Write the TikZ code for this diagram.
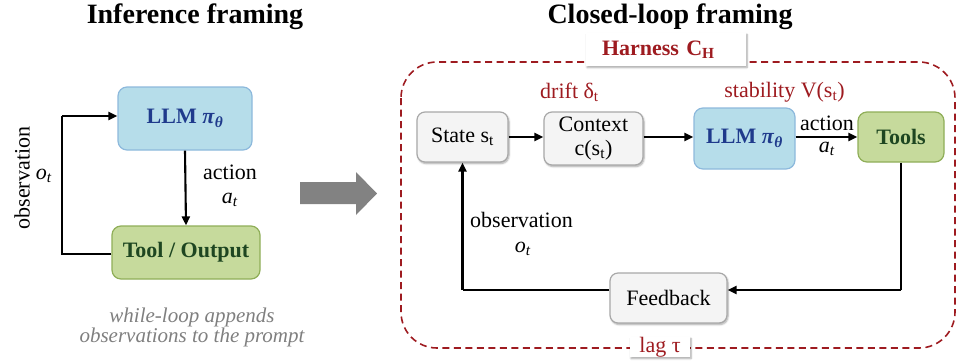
\documentclass[tikz,border=0pt]{standalone}
\usepackage{fontspec}
\setmainfont{Liberation Serif}
\usetikzlibrary{arrows.meta,shadows.blur,calc}

\definecolor{llmfill}{HTML}{B6DDEA}
\definecolor{llmdraw}{HTML}{8DB9DC}
\definecolor{llmtext}{HTML}{1F3A8C}
\definecolor{toolfill}{HTML}{C6DA9C}
\definecolor{tooldraw}{HTML}{8FAE58}
\definecolor{tooltext}{HTML}{1E4621}
\definecolor{greyfill}{HTML}{F4F4F4}
\definecolor{greydraw}{HTML}{A8A8A8}
\definecolor{harness}{HTML}{9E1B20}
\definecolor{captiongrey}{HTML}{7F7F7F}
\definecolor{bigarrow}{HTML}{828282}

\newcommand{\bodyfont}{\fontsize{22}{25}\selectfont}
\newcommand{\titlefont}{\fontsize{28}{32}\selectfont\bfseries}
\newcommand{\sub}[1]{\textsubscript{#1}}

\tikzset{
  x=1pt, y=-1pt,
  softshadow/.style={blur shadow={shadow xshift=1pt, shadow yshift=-1.5pt,
      shadow blur steps=6, shadow opacity=35}},
  llmbox/.style={draw=llmdraw, fill=llmfill, line width=1.2pt, rounded corners=9pt,
      font=\bodyfont\bfseries, text=llmtext, inner sep=0pt},
  toolbox/.style={draw=tooldraw, fill=toolfill, line width=1.2pt, rounded corners=9pt,
      font=\bodyfont\bfseries, text=tooltext, inner sep=0pt},
  greybox/.style={draw=greydraw, fill=greyfill, line width=1.2pt, rounded corners=8pt,
      font=\bodyfont, inner sep=0pt, align=center, softshadow},
  flow/.style={draw=black, line width=2.1pt, -{Triangle[length=9pt,width=8pt]}},
  plainline/.style={draw=black, line width=2.1pt},
  lbl/.style={font=\bodyfont, inner sep=0pt},
  redlbl/.style={font=\bodyfont, text=harness, inner sep=0pt},
  tag/.style={fill=white, inner sep=0pt, softshadow},
}

\begin{document}
\begin{tikzpicture}
\useasboundingbox (0,0) rectangle (956,360);

% ---------------- Inference framing ----------------
\node[font=\titlefont, anchor=base, inner sep=0pt] (titleL) at (195,23) {Inference framing};

\node[llmbox, minimum width=134pt, minimum height=63pt] (llmL) at (185,118.5)
  {LLM \textit{π}\sub{\textit{θ}}};
\node[toolbox, minimum width=148pt, minimum height=53pt] (toolL) at (186,252.5)
  {Tool / Output};

\draw[flow] (llmL.south) -- (toolL.north);
\node[lbl] (actL) at (230,172) {action};
\node[lbl] (atL) at (230,200) {\textit{a}\sub{\textit{t}}};

\coordinate (loopB) at (62,254);
\coordinate (loopT) at (62,116);
\draw[plainline] (toolL.west |- loopB) -- (loopB) -- (loopT);
\draw[flow] (loopT) -- (llmL.west |- loopT);
\node[lbl, rotate=90] (obsL) at (22,178) {observation};
\node[lbl] (otL) at (44,176) {\textit{o}\sub{\textit{t}}};

\node[font=\fontsize{21}{20}\selectfont\itshape, text=captiongrey, align=center, inner sep=0pt]
  (captionL) at (192,327) {while-loop appends\\observations to the prompt};

% ---------------- transition arrow ----------------
\fill[bigarrow] (300,182) -- (356,182) -- (356,172) -- (377,193.5) -- (356,215)
  -- (356,204) -- (300,204) -- cycle;

% ---------------- Closed-loop framing ----------------
\node[font=\titlefont, anchor=base, inner sep=0pt] (titleR) at (670,23) {Closed-loop framing};

\draw[harness, line width=1.6pt, dash pattern=on 7pt off 4.5pt, rounded corners=36pt]
  (401,62) rectangle (955,348);

\node[tag, minimum width=160pt, minimum height=33pt, text width=128pt, inner xsep=16pt,
  align=left, font=\fontsize{22}{25}\selectfont\bfseries, text=harness] (hlabel) at (666,49.5)
  {Harness C\sub{H}};
\node[tag, minimum width=60pt, minimum height=20pt, font=\bodyfont, text=harness] (lag)
  at (660,347) {lag τ};

\node[greybox, minimum width=91pt, minimum height=50pt] (state) at (462.5,137) {State s\sub{t}};
\node[greybox, minimum width=99pt, minimum height=53pt, font=\fontsize{22}{24}\selectfont]
  (ctx) at (593.5,138.5) {Context\\c(s\sub{t})};
\node[llmbox, minimum width=101pt, minimum height=61pt] (llmR) at (744.5,138.5)
  {LLM \textit{π}\sub{\textit{θ}}};
\node[toolbox, minimum width=86pt, minimum height=50pt] (tools) at (901,137) {Tools};
\node[greybox, minimum width=117pt, minimum height=50pt] (fb) at (668.5,298) {Feedback};

\node[redlbl] (drift) at (569.5,92) {drift δ\sub{t}};
\node[redlbl] (stab) at (784.5,92) {stability V(s\sub{t})};

\coordinate (rowY) at (0,137);
\draw[flow] (state.east |- rowY) -- (ctx.west |- rowY);
\draw[flow] (ctx.east |- rowY) -- (llmR.west |- rowY);
\draw[flow] (llmR.east |- rowY) -- (tools.west |- rowY);
\node[lbl] (actR) at (827,123) {action};
\node[lbl] (atR) at (827,149) {\textit{a}\sub{\textit{t}}};

\coordinate (fbY) at (0,290);
\draw[plainline] (tools.south) -- (tools.south |- fbY);
\draw[flow] (tools.south |- fbY) -- (fb.east |- fbY);
\draw[plainline] (fb.west |- fbY) -- (state.south |- fbY);
\draw[flow] (state.south |- fbY) -- (state.south);

\node[lbl, anchor=west] (obsR) at (470,220) {observation};
\node[lbl] (otR) at (523,249) {\textit{o}\sub{\textit{t}}};
\end{tikzpicture}
\end{document}
